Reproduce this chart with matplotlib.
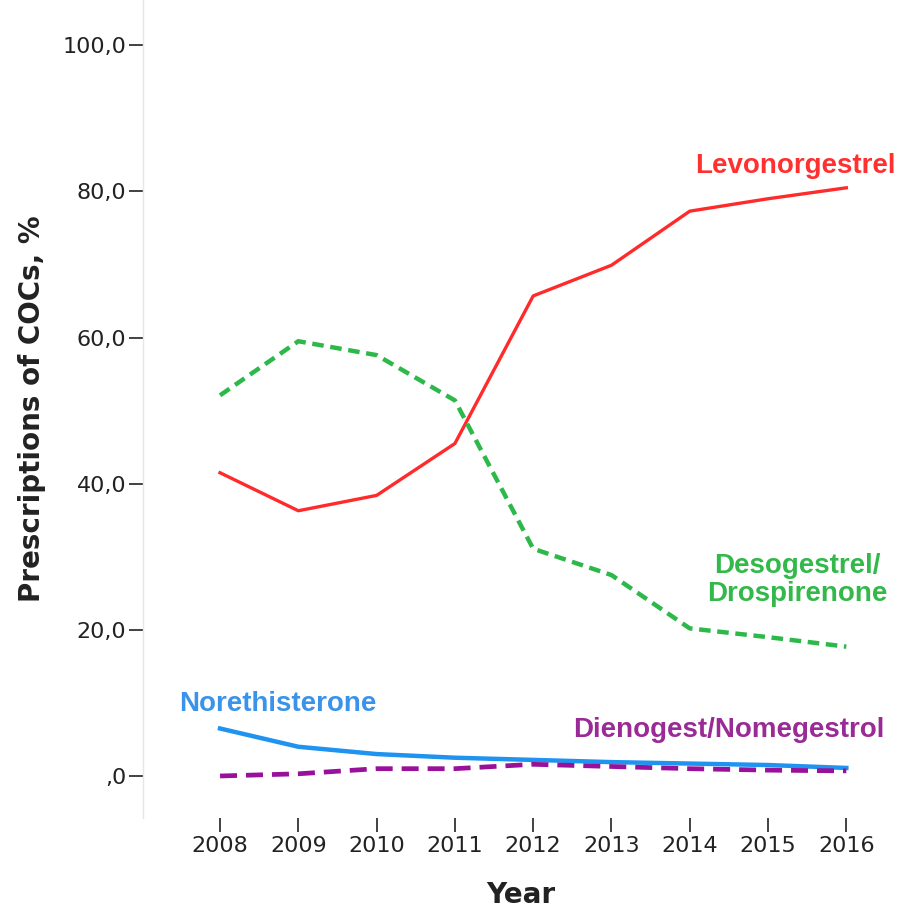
import matplotlib
matplotlib.use('Agg')
import matplotlib.pyplot as plt

years = [2008, 2009, 2010, 2011, 2012, 2013, 2014, 2015, 2016]
levonorgestrel = [41.5, 36.3, 38.4, 45.5, 65.7, 69.9, 77.3, 79.0, 80.5]
desogestrel = [52.1, 59.5, 57.6, 51.4, 31.1, 27.5, 20.2, 19.0, 17.7]
norethisterone = [6.5, 4.0, 3.0, 2.5, 2.2, 1.9, 1.7, 1.5, 1.1]
dienogest = [0.0, 0.3, 1.0, 1.0, 1.6, 1.3, 1.0, 0.8, 0.7]
yticks = [0, 20, 40, 60, 80, 100]
ylabels = [',0', '20,0', '40,0', '60,0', '80,0', '100,0']

fig = plt.figure(figsize=(8.98, 9.22), dpi=100)
ax = fig.add_axes([143/898, 104/922, 1 - 143/898, 818/922])

ax.plot(years, levonorgestrel, color='#ff2b2b', lw=2.4)
ax.plot(years, desogestrel, color='#2db84a', lw=3.2, dashes=(2.6, 1.5))
ax.plot(years, norethisterone, color='#1f93f0', lw=3.2)
ax.plot(years, dienogest, color='#99109a', lw=3.4, dashes=(3.6, 1.9))

ax.set_xlim(2007.016, 2016.66)
ax.set_ylim(-5.75, 106.2)
ax.set_xticks(years)
ax.set_xticklabels([str(y) for y in years], fontsize=16, color='#222222')
ax.set_yticks(yticks)
ax.set_yticklabels(ylabels, fontsize=16, color='#222222')
ax.tick_params(axis='both', direction='out', length=10, width=1.3, color='#333333')
ax.tick_params(axis='x', pad=3)
ax.tick_params(axis='y', pad=2)

for s in ['top', 'right', 'bottom']:
    ax.spines[s].set_visible(False)
ax.spines['left'].set_color('#e6e6e6')
ax.spines['left'].set_linewidth(1.0)

ax.set_ylabel('Prescriptions of COCs, %', fontsize=20, fontweight='bold', color='#222222', labelpad=12)
ax.set_xlabel('Year', fontsize=20, fontweight='bold', color='#222222', labelpad=18)

lab = dict(family='Liberation Sans', fontweight='bold', fontsize=20)
ax.text(2015.35, 83.5, 'Levonorgestrel', color='#ff3030', ha='center', va='center', **lab)
ax.text(2015.37, 26.8, 'Desogestrel/\nDrospirenone', color='#33b84a', ha='center', va='center', linespacing=1.1, **lab)
ax.text(2008.74, 9.8, 'Norethisterone', color='#3a93ea', ha='center', va='center', **lab)
ax.text(2014.5, 6.3, 'Dienogest/Nomegestrol', color='#9a2a95', ha='center', va='center', **lab)

fig.savefig('out.png', dpi=100)
